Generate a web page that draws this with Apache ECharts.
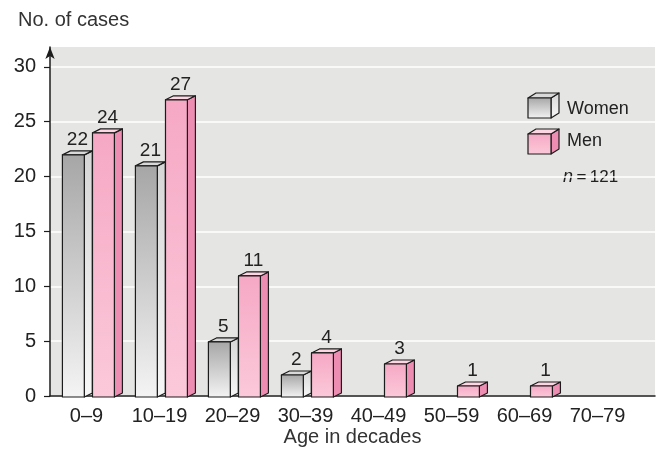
<!DOCTYPE html>
<html>
<head>
<meta charset="utf-8">
<script src="https://cdn.jsdelivr.net/npm/echarts@6/dist/echarts.min.js"></script>
<style>
  html, body { margin: 0; padding: 0; background: #ffffff; }
  #chart { width: 660px; height: 452px; }
</style>
</head>
<body>
<div id="chart"></div>
<script>
// Age groups (decades) and number of cases per sex
const ageGroups = ['0\u20139', '10\u201319', '20\u201329', '30\u201339', '40\u201349', '50\u201359', '60\u201369', '70\u201379'];
const women = [22, 21, 5, 2, 0, 0, 0, 0];
const men   = [24, 27, 11, 4, 3, 1, 1, 0];
const yTicks = [0, 5, 10, 15, 20, 25, 30];
const seriesNames = ['Women', 'Men'];

const FONT = '"Liberation Sans", Arial, Helvetica, sans-serif';
const INK = '#222222';
const EDGE = '#1c1c1c';

// face colours of the extruded boxes
const palette = {
  Women: {
    front: new echarts.graphic.LinearGradient(0, 0, 0, 1, [
      { offset: 0, color: '#a6a6a6' }, { offset: 1, color: '#f4f4f4' }]),
    side: new echarts.graphic.LinearGradient(0, 0, 0, 1, [
      { offset: 0, color: '#d6d6d6' }, { offset: 1, color: '#f7f7f7' }]),
    top: '#d9d9d9'
  },
  Men: {
    front: new echarts.graphic.LinearGradient(0, 0, 0, 1, [
      { offset: 0, color: '#f6a8c4' }, { offset: 1, color: '#fbc9da' }]),
    side: '#ee8db2',
    top: '#fcd6e3'
  }
};

// draws one bar as a small box: front face, right side, top face and value
function boxRenderer(offsetRatio, colors) {
  return function (params, api) {
    const v = api.value(1);
    if (!v) return null;
    const idx = api.value(0);
    const base = api.coord([idx, 0]);
    const top = api.coord([idx, v]);
    const band = api.size([1, 0])[0];
    const w = band * 0.30;
    const dx = band * 0.11;
    const dy = 4;
    const x0 = base[0] + band * offsetRatio;
    const x1 = x0 + w;
    const yb = base[1];
    const yt = top[1];
    const line = { stroke: EDGE, lineWidth: 1.2, lineJoin: 'round' };
    return {
      type: 'group',
      children: [
        { type: 'polygon', shape: { points: [[x1, yb], [x1 + dx, yb - dy], [x1 + dx, yt - dy], [x1, yt]] },
          style: Object.assign({ fill: colors.side }, line) },
        { type: 'polygon', shape: { points: [[x0, yt], [x0 + dx, yt - dy], [x1 + dx, yt - dy], [x1, yt]] },
          style: Object.assign({ fill: colors.top }, line) },
        { type: 'rect', shape: { x: x0, y: yt, width: w, height: yb - yt },
          style: Object.assign({ fill: colors.front }, line) },
        { type: 'text',
          style: { text: String(v), x: (x0 + x1 + dx) / 2, y: yt - dy - 2,
                   align: 'center', verticalAlign: 'bottom',
                   fontSize: 19, fontFamily: FONT, fill: INK } }
      ]
    };
  };
}

// legend cube built from the same face colours
function legendCube(x, y, colors) {
  const w = 23, h = 20, dx = 8, dy = 5;
  const line = { stroke: EDGE, lineWidth: 1.2, lineJoin: 'round' };
  return {
    type: 'group', x: x, y: y,
    children: [
      { type: 'polygon', shape: { points: [[w, dy], [w + dx, 0], [w + dx, h], [w, h + dy]] },
        style: Object.assign({ fill: colors.side }, line) },
      { type: 'polygon', shape: { points: [[0, dy], [dx, 0], [w + dx, 0], [w, dy]] },
        style: Object.assign({ fill: colors.top }, line) },
      { type: 'rect', shape: { x: 0, y: dy, width: w, height: h },
        style: Object.assign({ fill: colors.front }, line) }
    ]
  };
}

const yMax = 31.8;
const chart = echarts.init(document.getElementById('chart'), null, { renderer: 'canvas' });

chart.setOption({
  backgroundColor: '#ffffff',
  animation: false,
  title: {
    text: 'No. of cases', left: 13, top: 5,
    textStyle: { fontFamily: FONT, fontSize: 20, fontWeight: 'normal', color: '#333333' }
  },
  grid: [
    // shaded plotting panel with its rulings
    { left: 50, right: 5, top: 47, bottom: 55, show: true, backgroundColor: '#e5e5e3', borderWidth: 0 },
    // area holding the decade columns
    { left: 50, right: 26, top: 47, bottom: 55, show: false }
  ],
  xAxis: [
    { gridIndex: 0, type: 'value', min: 0, max: 1,
      axisLine: { show: true, lineStyle: { color: EDGE, width: 1.5 } },
      axisTick: { show: false }, axisLabel: { show: false }, splitLine: { show: false },
      name: 'Age in decades', nameLocation: 'middle', nameGap: 31,
      nameTextStyle: { fontFamily: FONT, fontSize: 20, color: '#333333' } },
    { gridIndex: 1, type: 'category', data: ageGroups,
      axisLine: { show: false }, axisTick: { show: false },
      axisLabel: { interval: 0, hideOverlap: false, margin: 9,
                   fontFamily: FONT, fontSize: 20, color: INK } }
  ],
  yAxis: [
    { gridIndex: 0, type: 'value', min: 0, max: yMax, interval: 5,
      axisLine: { show: true, symbol: ['none', 'arrow'], symbolSize: [7, 12],
                  lineStyle: { color: EDGE, width: 1.5 } },
      axisTick: { show: true, inside: false, length: 6, customValues: yTicks,
                  lineStyle: { color: EDGE, width: 1.2 } },
      axisLabel: { margin: 14, customValues: yTicks, fontFamily: FONT, fontSize: 20, color: INK },
      splitLine: { show: true, lineStyle: { color: '#ffffff', width: 1.6 } } },
    { gridIndex: 1, type: 'value', min: 0, max: yMax, interval: 5, show: false,
      splitLine: { show: false } }
  ],
  series: [
    { name: seriesNames[0], type: 'custom', xAxisIndex: 1, yAxisIndex: 1,
      renderItem: boxRenderer(-0.33, palette.Women),
      encode: { x: 0, y: 1 },
      data: women.map((v, i) => [i, v]) },
    { name: seriesNames[1], type: 'custom', xAxisIndex: 1, yAxisIndex: 1,
      renderItem: boxRenderer(0.082, palette.Men),
      encode: { x: 0, y: 1 },
      data: men.map((v, i) => [i, v]) }
  ],
  graphic: [
    legendCube(528, 93, palette.Women),
    legendCube(528, 129, palette.Men),
    { type: 'text', x: 567, y: 109, style: { text: seriesNames[0], fontFamily: FONT, fontSize: 18,
        fill: INK, verticalAlign: 'middle' } },
    { type: 'text', x: 567, y: 141, style: { text: seriesNames[1], fontFamily: FONT, fontSize: 18,
        fill: INK, verticalAlign: 'middle' } },
    { type: 'text', x: 563, y: 177, style: {
        rich: { it: { fontStyle: 'italic', fontFamily: FONT, fontSize: 18, fill: INK },
                n: { fontFamily: FONT, fontSize: 17, fill: INK } },
        text: '{it|n}{n|\u2009=\u2009121}', verticalAlign: 'middle' } }
  ]
});
</script>
</body>
</html>
